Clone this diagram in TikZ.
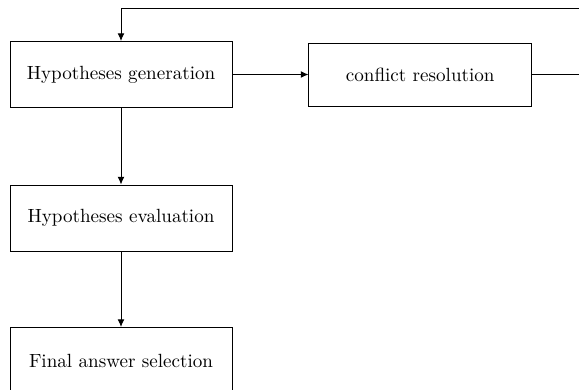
\documentclass[tikz,border=0pt]{standalone}
\usetikzlibrary{arrows.meta}
\begin{document}
\begin{tikzpicture}[x=0.524pt,y=-0.524pt,
  stagebox/.style={draw, line width=0.5pt, minimum width=116.3pt, minimum height=34.6pt, font=\normalsize, inner sep=0pt},
  flow/.style={-{Latex[length=4pt,width=3.6pt]}, line width=0.5pt}]
\useasboundingbox (0,0) rectangle (579,389);
\clip (0,0) rectangle (579,389);
\node[stagebox] (gen) at (121,74.5) {Hypotheses generation};
\node[stagebox, minimum height=33pt, minimum width=116.6pt] (conf) at (420.2,74.5) {conflict resolution};
\node[stagebox] (eval) at (121,218) {Hypotheses evaluation};
\node[stagebox] (final) at (121,360.5) {Final answer selection};
\coordinate (loopA) at (620,74.5);
\coordinate (loopB) at (620,8);
\coordinate (loopC) at (121,8);
\draw[flow] (gen) -- (conf);
\draw[flow] (gen) -- (eval);
\draw[flow] (eval) -- (final);
\draw[flow] (conf.east) -- (loopA) -- (loopB) -- (loopC) -- (gen.north);
\end{tikzpicture}
\end{document}
